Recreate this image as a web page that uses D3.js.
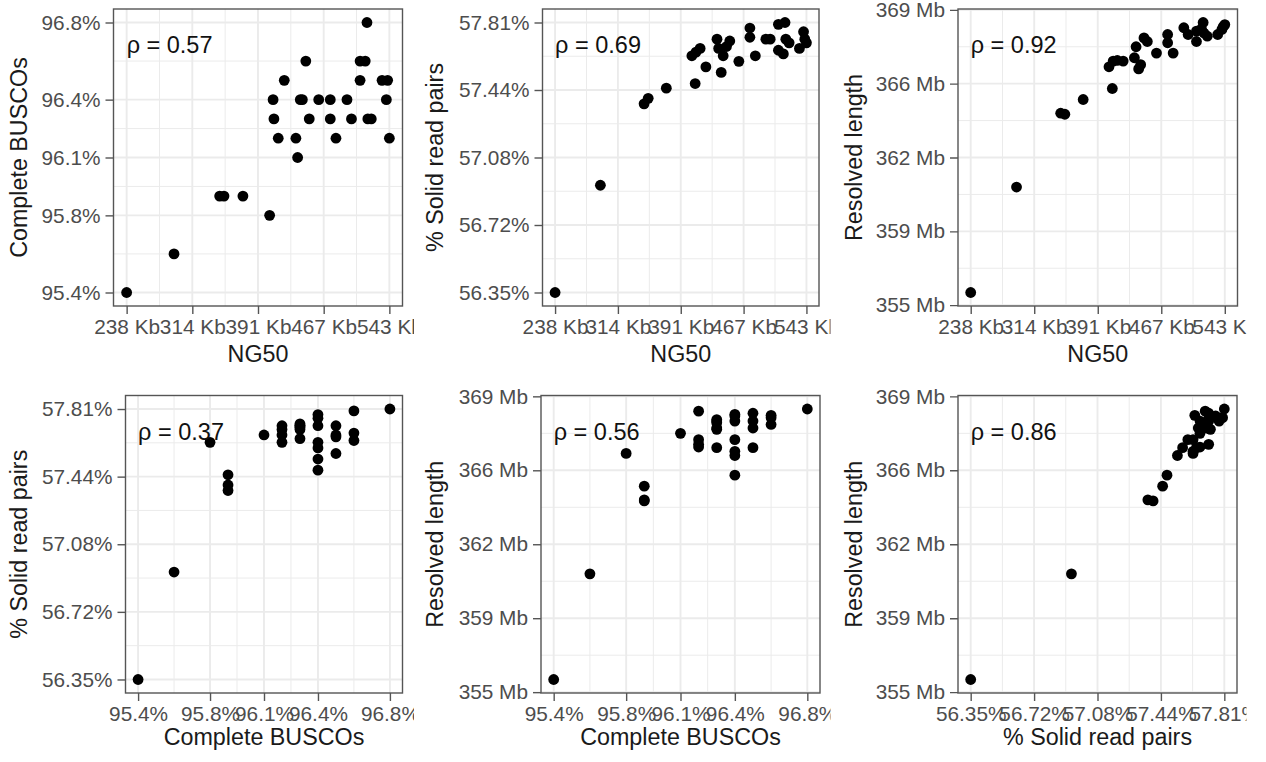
<!DOCTYPE html>
<html>
<head>
<meta charset="utf-8">
<script src="https://cdn.jsdelivr.net/npm/d3@7"></script>
<style>
  body { margin: 0; background: #fff; }
  svg { display: block; font-family: "Liberation Sans", Arial, sans-serif; }
  .grid-major { stroke: #EBEBEB; stroke-width: 1.9; }
  .grid-minor { stroke: #EBEBEB; stroke-width: 1; }
  .border { fill: none; stroke: #555; stroke-width: 1.4; }
  .axis line { stroke: #555; stroke-width: 1.4; }
  .axis text { fill: #4D4D4D; font-size: 20.8px; }
  .title { fill: #1a1a1a; font-size: 23.3px; }
  .rho { fill: #111; font-size: 23.5px; }
</style>
</head>
<body>
<svg id="chart" width="1266" height="762"></svg>
<script>
// One row per assembly.
const ng50 = [238, 293, 346, 351, 373, 404, 408, 409, 414, 421, 434.5, 436.5, 439.6, 442, 446, 450,
  461, 474.4, 474.4, 481, 493.8, 499, 509, 509, 515, 517, 518, 522, 534.5, 539.5, 541, 543];
const busco = [95.4, 95.6, 95.9, 95.9, 95.9, 95.8, 96.4, 96.3, 96.2, 96.5, 96.2, 96.1, 96.4, 96.4, 96.6, 96.3,
  96.4, 96.4, 96.3, 96.2, 96.4, 96.3, 96.6, 96.5, 96.6, 96.8, 96.3, 96.3, 96.5, 96.4, 96.5, 96.2];
const solid = [56.35, 56.93, 57.37, 57.40, 57.455, 57.63, 57.48, 57.65, 57.67, 57.57, 57.72, 57.67, 57.54, 57.63, 57.68, 57.71,
  57.60, 57.78, 57.73, 57.63, 57.72, 57.72, 57.80, 57.66, 57.64, 57.81, 57.72, 57.70, 57.67, 57.76, 57.72, 57.70];
const resolved = [355.6, 360.6, 364.1, 364.05, 364.75, 366.3, 365.27, 366.57, 366.6, 366.57, 366.73, 367.25, 366.2, 366.4, 367.67, 367.5,
  366.95, 367.83, 367.44, 366.95, 368.15, 367.83, 367.99, 367.5, 368.1, 368.4, 367.9, 367.75, 367.83, 368.07, 368.2, 368.3];

// Tick positions and their printed labels.
const ng50Ticks = [238, 314.25, 390.5, 466.75, 543];
const ng50Labels = ["238 Kb", "314 Kb", "391 Kb", "467 Kb", "543 Kb"];
const buscoTicks = [95.4, 95.8, 96.1, 96.4, 96.8];
const buscoLabels = ["95.4%", "95.8%", "96.1%", "96.4%", "96.8%"];
const solidTicks = [56.35, 56.715, 57.08, 57.445, 57.81];
const solidLabels = ["56.35%", "56.72%", "57.08%", "57.44%", "57.81%"];
const resolvedTicks = [355, 358.5, 362, 365.5, 369];
const resolvedLabels = ["355 Mb", "359 Mb", "362 Mb", "366 Mb", "369 Mb"];

// Panels: x variable, y variable, Spearman label.
const panelX = ["ng50", "ng50", "ng50", "busco", "busco", "solid"];
const panelY = ["busco", "solid", "resolved", "solid", "resolved", "resolved"];
const rhoLabels = ["ρ = 0.57", "ρ = 0.69", "ρ = 0.92", "ρ = 0.37", "ρ = 0.56", "ρ = 0.86"];

const vars = {
  ng50: { values: ng50, ticks: ng50Ticks, labels: ng50Labels, title: "NG50" },
  busco: { values: busco, ticks: buscoTicks, labels: buscoLabels, title: "Complete BUSCOs" },
  solid: { values: solid, ticks: solidTicks, labels: solidLabels, title: "% Solid read pairs" },
  resolved: { values: resolved, ticks: resolvedTicks, labels: resolvedLabels, title: "Resolved length" },
};

// Layout: plot rectangles and the clip column of each panel.
const plotL = [113.5, 542.5, 958, 125.5, 541, 958];
const plotR = [402.5, 819, 1237.5, 402.5, 820, 1237];
const rowTop = [9, 395.5], rowBot = [306, 693];
const colClip = [[0, 414], [414, 830.5], [830.5, 1246.5]];
const yTitleX = [27, 443, 862];
const xTitleY = [362, 745];

const svg = d3.select("#chart");
const defs = svg.append("defs");

// ggplot-style 5% expansion on each side
function padded(values) {
  const [lo, hi] = d3.extent(values);
  const p = (hi - lo) * 0.05;
  return [lo - p, hi + p];
}
function minors(ticks) {
  return d3.pairs(ticks).map(([a, b]) => (a + b) / 2);
}

panelX.forEach((xk, i) => {
  const row = Math.floor(i / 3), col = i % 3;
  const vx = vars[xk], vy = vars[panelY[i]];
  const top = rowTop[row], bot = rowBot[row];
  const left = plotL[i], right = plotR[i];

  const x = d3.scaleLinear().domain(padded(vx.values)).range([left, right]);
  const y = d3.scaleLinear().domain(padded(vy.values)).range([bot, top]);

  const clipId = "clip" + i;
  defs.append("clipPath").attr("id", clipId)
    .append("rect")
    .attr("x", colClip[col][0]).attr("y", 0)
    .attr("width", colClip[col][1] - colClip[col][0]).attr("height", 762);

  const g = svg.append("g").attr("clip-path", `url(#${clipId})`);

  // grid
  const grid = g.append("g");
  grid.selectAll("line.vmin").data(minors(vx.ticks)).join("line")
    .attr("class", "grid-minor")
    .attr("x1", (d) => x(d)).attr("x2", (d) => x(d)).attr("y1", top).attr("y2", bot);
  grid.selectAll("line.hmin").data(minors(vy.ticks)).join("line")
    .attr("class", "grid-minor")
    .attr("y1", (d) => y(d)).attr("y2", (d) => y(d)).attr("x1", left).attr("x2", right);
  grid.selectAll("line.vmaj").data(vx.ticks).join("line")
    .attr("class", "grid-major")
    .attr("x1", (d) => x(d)).attr("x2", (d) => x(d)).attr("y1", top).attr("y2", bot);
  grid.selectAll("line.hmaj").data(vy.ticks).join("line")
    .attr("class", "grid-major")
    .attr("y1", (d) => y(d)).attr("y2", (d) => y(d)).attr("x1", left).attr("x2", right);

  // points
  const pts = d3.range(vx.values.length).map((k) => [vx.values[k], vy.values[k]]);
  g.append("g").selectAll("circle").data(pts).join("circle")
    .attr("cx", (d) => x(d[0])).attr("cy", (d) => y(d[1]))
    .attr("r", 5.4).attr("fill", "#000");

  g.append("rect").attr("class", "border")
    .attr("x", left).attr("y", top).attr("width", right - left).attr("height", bot - top);

  // axes
  const ax = g.append("g").attr("class", "axis").attr("transform", `translate(0,${bot})`)
    .call(d3.axisBottom(x).tickValues(vx.ticks).tickFormat((d, k) => vx.labels[k])
      .tickSize(8).tickPadding(5));
  ax.select(".domain").remove();
  const ay = g.append("g").attr("class", "axis").attr("transform", `translate(${left},0)`)
    .call(d3.axisLeft(y).tickValues(vy.ticks).tickFormat((d, k) => vy.labels[k])
      .tickSize(8).tickPadding(5));
  ay.select(".domain").remove();

  // titles
  g.append("text").attr("class", "title")
    .attr("x", (left + right) / 2).attr("y", xTitleY[row])
    .attr("text-anchor", "middle").text(vx.title);
  g.append("text").attr("class", "title")
    .attr("transform", `translate(${yTitleX[col]},${(top + bot) / 2}) rotate(-90)`)
    .attr("text-anchor", "middle").text(vy.title);

  // correlation label, anchored at the smallest x value
  g.append("text").attr("class", "rho")
    .attr("x", x(d3.min(vx.values))).attr("y", top + 44)
    .text(rhoLabels[i]);
});
</script>
</body>
</html>
